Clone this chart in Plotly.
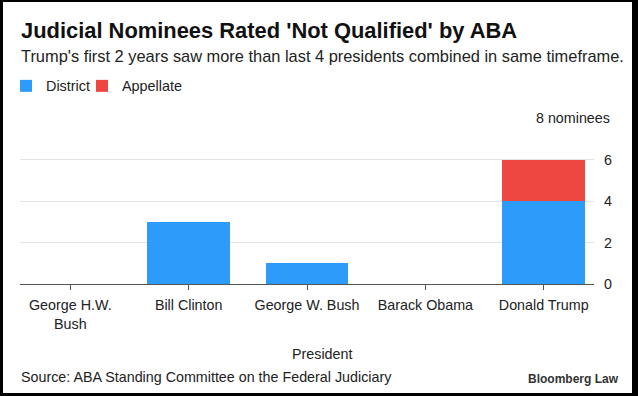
import plotly.graph_objects as go

# ---- data ----
presidents = ["George H.W. Bush", "Bill Clinton", "George W. Bush", "Barack Obama", "Donald Trump"]
x_tick_labels = ["George H.W.<br>Bush", "Bill Clinton", "George W. Bush", "Barack Obama", "Donald Trump"]
district = [0, 3, 1, 0, 4]
appellate = [0, 0, 0, 0, 2]
y_ticks = [0, 2, 4, 6, 8]
y_tick_labels = ["0", "2", "4", "6", ""]
top_tick_label = "8 nominees"

BLUE = "#2D9BF9"
RED = "#EE4640"
FONT = "Liberation Sans, Arial, Helvetica, sans-serif"

W, H = 638, 396
L, R, T, B = 20, 44, 118, 112
PW = W - L - R
PH = H - T - B


def xp(px):
    return (px - L) / PW


def yp(py):
    return (H - B - py) / PH


fig = go.Figure()
fig.add_trace(go.Bar(x=presidents, y=district, name="District", marker=dict(color=BLUE, line=dict(width=0)),
                     width=0.7, hoverinfo="skip", legendwidth=31))
fig.add_trace(go.Bar(x=presidents, y=appellate, name="Appellate", marker=dict(color=RED, line=dict(width=0)),
                     width=0.7, hoverinfo="skip"))

annotations = [
    dict(text="<b>Judicial Nominees Rated 'Not Qualified' by ABA</b>", x=xp(20), y=yp(30),
         xanchor="left", yanchor="middle", font=dict(size=21.9, color="#111111")),
    dict(text="Trump's first 2 years saw more than last 4 presidents combined in same timeframe.",
         x=xp(20), y=yp(56), xanchor="left", yanchor="middle", font=dict(size=16.4, color="#222222")),
    dict(text=top_tick_label, x=xp(621), y=yp(118), xanchor="right", yanchor="middle",
         bgcolor="white", borderpad=10, font=dict(size=14.3, color="#222222")),
    dict(text="President", x=xp(322), y=yp(354), xanchor="center", yanchor="middle",
         font=dict(size=14.3, color="#222222")),
    dict(text="Source: ABA Standing Committee on the Federal Judiciary", x=xp(20), y=yp(377),
         xanchor="left", yanchor="middle", font=dict(size=14.3, color="#222222")),
    dict(text="<b>Bloomberg Law</b>", x=xp(620), y=yp(379), xanchor="right", yanchor="middle",
         font=dict(size=12, color="#333333")),
]
for a in annotations:
    a.update(xref="paper", yref="paper", showarrow=False)
    a.setdefault("borderpad", 0)

shapes = []
for (x0, x1, y0, y1) in [(0, 3, 0, H), (632, W, 0, H), (0, W, 0, 2), (0, W, 393, H)]:
    shapes.append(dict(type="rect", xref="paper", yref="paper", x0=xp(x0), x1=xp(x1),
                       y0=yp(y1), y1=yp(y0), fillcolor="black", line=dict(width=0), layer="above"))

fig.update_layout(
    width=W, height=H,
    margin=dict(l=L, r=R, t=T, b=B, pad=0),
    barmode="stack",
    paper_bgcolor="white", plot_bgcolor="white",
    font=dict(family=FONT, size=14.3, color="#222222"),
    showlegend=True,
    legend=dict(orientation="h", xref="container", yref="container", x=6 / W, y=1 - 86 / H,
                xanchor="left", yanchor="middle", font=dict(size=14.4, color="#222222"),
                bgcolor="rgba(0,0,0,0)", traceorder="normal", itemclick=False, itemdoubleclick=False),
    xaxis=dict(type="category", range=[-0.425, 4.425], tickmode="array", tickvals=presidents,
               ticktext=x_tick_labels, showline=True, linecolor="#555555", linewidth=1,
               ticks="outside", ticklen=5, tickcolor="#555555", tickwidth=1, showgrid=False,
               ticklabelstandoff=3,
               tickfont=dict(size=14.3, color="#222222"), fixedrange=True),
    yaxis=dict(side="right", range=[0, 8], tickmode="array", tickvals=y_ticks, ticktext=y_tick_labels,
               showgrid=True, gridcolor="#e3e3e3", gridwidth=1, zeroline=False, ticks="",
               ticklabelstandoff=9, tickfont=dict(size=14.3, color="#222222"), fixedrange=True),
    annotations=annotations,
    shapes=shapes,
)

fig.write_html("out.html", config={"displayModeBar": False},
               post_script="document.body.style.margin='0';document.body.style.padding='0';"
                           "document.body.style.overflow='hidden';")
